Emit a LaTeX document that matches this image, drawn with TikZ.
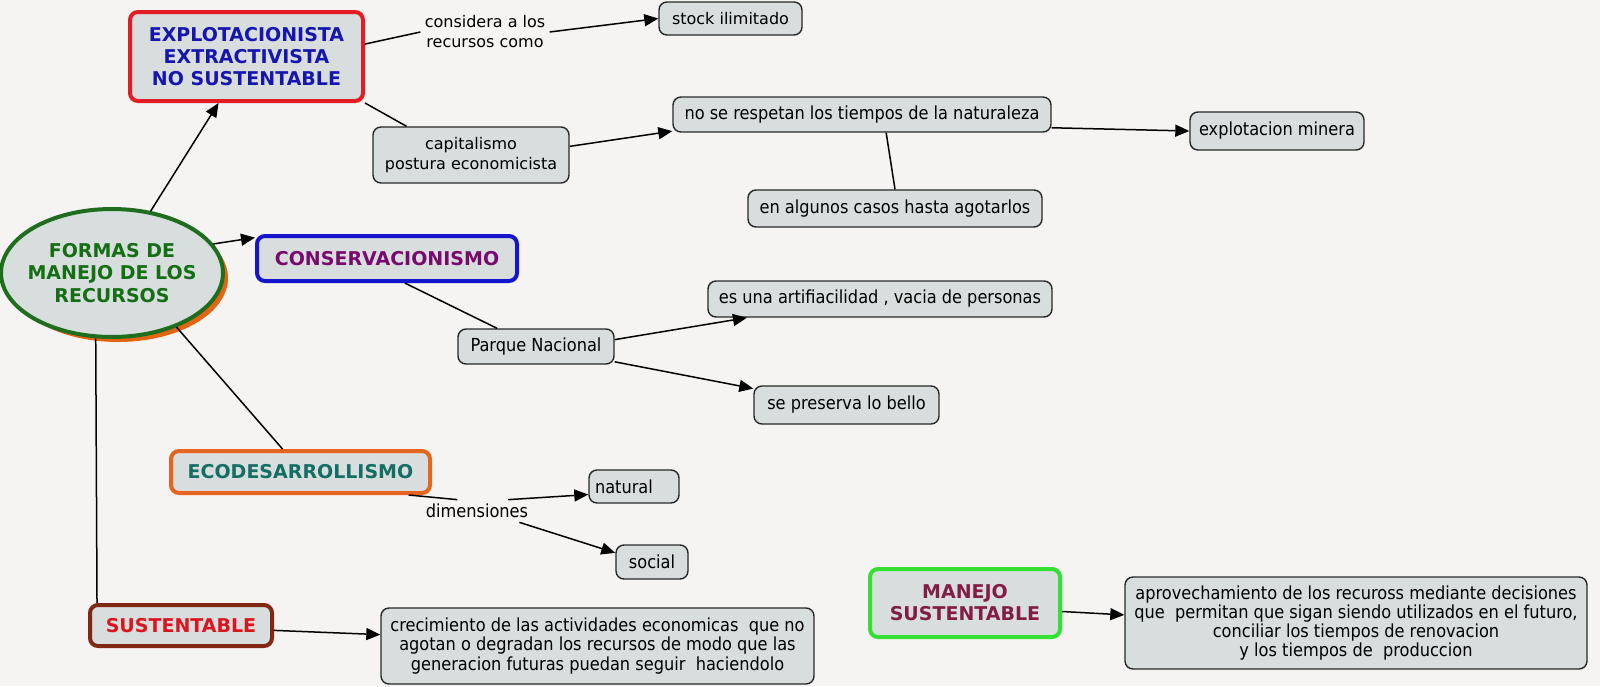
\documentclass[tikz,border=0pt]{standalone}
\usepackage{fontspec}
\setmainfont{DejaVu Sans}
\newfontfamily\condfont{DejaVu Sans Condensed}
\usetikzlibrary{arrows.meta,shapes.geometric}
\definecolor{bgcol}{RGB}{245,244,243}
\definecolor{boxfill}{RGB}{216,221,221}
\definecolor{boxline}{RGB}{40,40,40}
\definecolor{redline}{RGB}{228,28,38}
\definecolor{bluetext}{RGB}{22,22,175}
\definecolor{greenline}{RGB}{30,110,30}
\definecolor{greentext}{RGB}{20,110,20}
\definecolor{shadoworange}{RGB}{228,100,20}
\definecolor{blueline}{RGB}{20,20,205}
\definecolor{purpletext}{RGB}{120,10,110}
\definecolor{orangeline}{RGB}{230,100,30}
\definecolor{tealtext}{RGB}{20,110,100}
\definecolor{brownline}{RGB}{128,40,20}
\definecolor{redtext}{RGB}{220,20,30}
\definecolor{limeline}{RGB}{50,225,50}
\definecolor{maroontext}{RGB}{130,30,70}
\tikzset{
  box/.style={draw=boxline, fill=boxfill, rounded corners=4pt, line width=0.7pt,
    inner sep=0pt, align=center, font={\fontsize{8}{10}\selectfont}},
  cbox/.style={box, font={\condfont\fontsize{9}{9.6}\selectfont}},
  titlebox/.style={box, line width=2pt, font={\bfseries\fontsize{9.5}{11}\selectfont}},
  lbl/.style={inner sep=2pt, align=center, font={\fontsize{8}{10}\selectfont}},
  clbl/.style={inner sep=2pt, align=center, font={\condfont\fontsize{9}{9.6}\selectfont}},
  conn/.style={draw=black, line width=0.75pt},
  arr/.style={conn, -{Triangle[length=7pt,width=6pt]}}
}
\begin{document}
\begin{tikzpicture}[x=0.5pt,y=-0.5pt]
\fill[bgcol] (0,0) rectangle (1600,686);
\useasboundingbox (0,0) rectangle (1600,686);

% central ellipse with shadow
\node[ellipse, fill=shadoworange, minimum width=110pt, minimum height=64pt, inner sep=0pt] (ellshadow) at (118,278) {};
\node[ellipse, draw=greenline, fill=boxfill, line width=2pt, minimum width=110pt, minimum height=64pt, inner xsep=-3pt, inner ysep=0pt, align=center, text=greentext, font={\bfseries\fontsize{9.5}{11.25}\selectfont}] (ell) at (112,273) {FORMAS DE\\MANEJO DE LOS\\RECURSOS};

% titles
\node[titlebox, draw=redline, text=bluetext, minimum width=116.5pt, minimum height=44.5pt] (explot) at (246.5,56.5) {EXPLOTACIONISTA\\EXTRACTIVISTA\\NO SUSTENTABLE};
\node[titlebox, draw=blueline, text=purpletext, minimum width=130pt, minimum height=22.5pt] (conserv) at (387,258.5) {CONSERVACIONISMO};
\node[titlebox, draw=orangeline, text=tealtext, minimum width=129.5pt, minimum height=21pt] (ecodes) at (300.5,472) {ECODESARROLLISMO};
\node[titlebox, draw=brownline, text=redtext, minimum width=91pt, minimum height=20.5pt] (sust) at (181,625.5) {SUSTENTABLE};
\node[titlebox, draw=limeline, text=maroontext, minimum width=95pt, minimum height=34pt] (manejo) at (965,603) {MANEJO\\SUSTENTABLE};

% regular boxes
\node[box, minimum width=71.5pt, minimum height=16.5pt] (stock) at (730.5,18.5) {stock ilimitado};
\node[box, minimum width=98pt, minimum height=28pt] (capit) at (471,155) {capitalismo\\postura economicista};
\node[cbox, minimum width=189pt, minimum height=17.5pt] (norespetan) at (862,114.5) {no se respetan los tiempos de la naturaleza};
\node[cbox, minimum width=87pt, minimum height=19pt] (minera) at (1277,131) {explotacion minera};
\node[cbox, minimum width=147pt, minimum height=18.5pt] (algunos) at (895,208.5) {en algunos casos hasta agotarlos};
\node[cbox, minimum width=78pt, minimum height=17.5pt] (parque) at (536,346.5) {Parque Nacional};
\node[cbox, minimum width=172pt, minimum height=18pt] (artif) at (880,299) {es una artifiacilidad , vacia de personas};
\node[cbox, minimum width=92.5pt, minimum height=19pt] (bello) at (846.5,405) {se preserva lo bello};
\node[cbox, minimum width=45pt, minimum height=16.5pt, text width=39pt, align=left] (natural) at (634,486.5) {natural};
\node[cbox, minimum width=36pt, minimum height=17pt] (social) at (652,562) {social};
\node[cbox, minimum width=216.5pt, minimum height=38pt] (crec) at (597.5,646) {crecimiento de las actividades economicas\ \ que no\\agotan o degradan los recursos de modo que las\\generacion futuras puedan seguir\ \ haciendolo};
\node[cbox, minimum width=231pt, minimum height=46pt] (aprov) at (1356,623) {aprovechamiento de los recuross mediante decisiones\\que\ \ permitan que sigan siendo utilizados en el futuro,\\conciliar los tiempos de renovacion\\y los tiempos de\ \ produccion};

% linking phrases
\node[lbl] (consid) at (485,32) {considera a los\\recursos como};
\node[clbl] (dim) at (477,511) {dimensiones};

% connectors
\draw[arr] (ell.58) -- (explot.-121);
\draw[arr] (ell.16) -- (conserv.171);
\draw[conn] (ell.-40) -- (ecodes.128);
\draw[conn] (ell.-104) -- (sust.165);
\draw[conn] (explot.6) -- (consid.west);
\draw[arr] (consid.east) -- (stock.west);
\draw[conn] (explot.south east) -- (capit.156);
\draw[arr] (capit.5) -- (norespetan.-175);
\draw[arr] (norespetan.-4) -- (minera.west);
\draw[conn] (norespetan.-37) -- (algunos.north);
\draw[conn] (conserv.-54) -- (parque.155);
\draw[arr] (parque.5) -- (artif.-172);
\draw[arr] (parque.-11) -- (bello.170);
\draw[conn] (ecodes.-12) -- (dim.150);
\draw[arr] (dim.20) -- (natural.-170);
\draw[arr] (dim.-15) -- (social.166);
\draw[arr] (sust.-3) -- (crec.177);
\draw[arr] (manejo.-5) -- (aprov.178);
\end{tikzpicture}
\end{document}
